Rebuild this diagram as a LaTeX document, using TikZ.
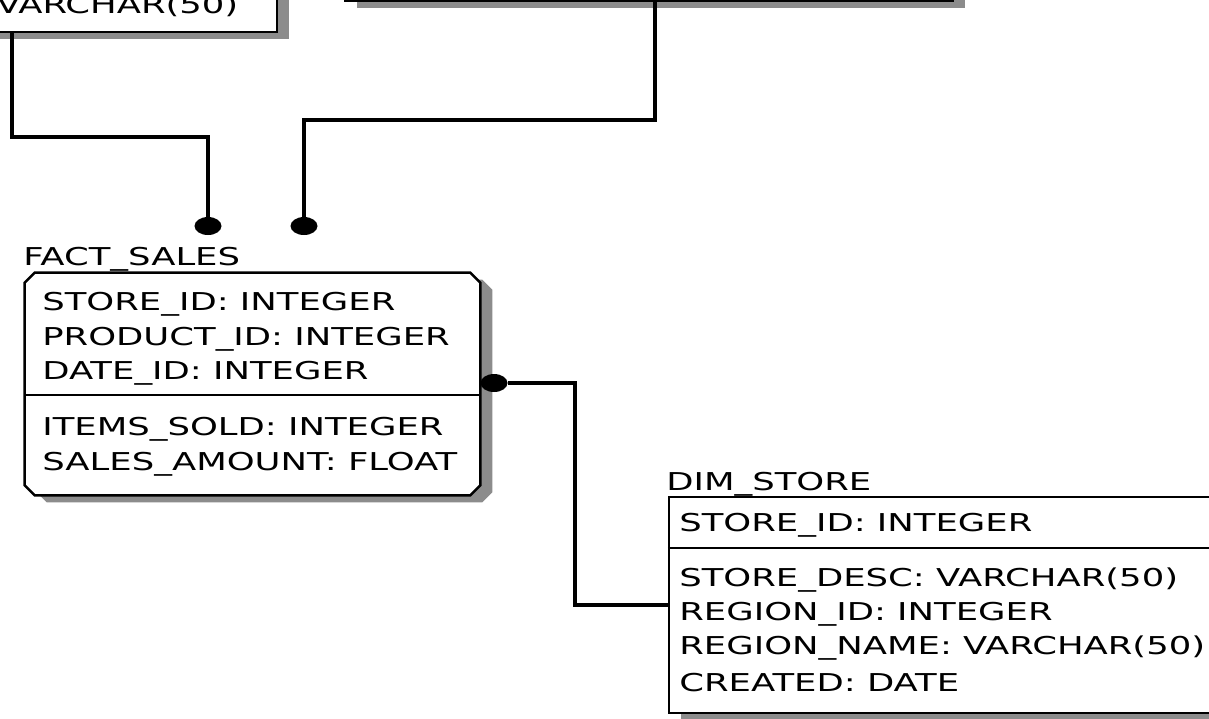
\documentclass[tikz,border=0pt]{standalone}
\usepackage{fontspec}
\newfontfamily\erfont[FakeStretch=1.44]{DejaVu Sans}
\usetikzlibrary{positioning,shapes.geometric,shadows}

\begin{document}
\begin{tikzpicture}[x=0.02cm,y=-0.02cm,
    box shadow/.style={drop shadow={shadow xshift=0.24cm,shadow yshift=-0.14cm,fill=black!45,opacity=1}},
    entity/.style={draw,fill=white,line width=1.4pt,inner sep=0pt,box shadow},
    field/.style={anchor=base west,inner sep=0pt,font=\erfont\fontsize{14pt}{17pt}\selectfont},
    link/.style={line width=1.8pt},
    end dot/.style={ellipse,fill,inner sep=0pt,minimum width=0.54cm,minimum height=0.36cm}]
    \useasboundingbox (0,0) rectangle (1209,718);
    \clip (0,0) rectangle (1209,718);

    % entity boxes
    \node[entity,minimum width=11.54cm,minimum height=2.64cm] at (-11.5,-34) (tlbox) {};
    \node[entity,minimum width=12.16cm,minimum height=3.02cm] at (649,-74.5) (tmbox) {};
    \node[inner sep=0pt,minimum width=9.1cm,minimum height=4.44cm] at (252.5,384) (fsbox) {};
    \draw[line width=1.4pt,fill=white,box shadow]
        ([xshift=0.2cm]fsbox.north west) -- ([xshift=-0.2cm]fsbox.north east)
        -- ([yshift=-0.2cm]fsbox.north east) -- ([yshift=0.2cm]fsbox.south east)
        -- ([xshift=-0.2cm]fsbox.south east) -- ([xshift=0.2cm]fsbox.south west)
        -- ([yshift=0.2cm]fsbox.south west) -- ([yshift=-0.2cm]fsbox.north west) -- cycle;
    \node[entity,minimum width=11.42cm,minimum height=4.32cm] at (954.5,605) (dsbox) {};
    \draw[line width=1.4pt] (fsbox.west |- 0,395) -- (fsbox.east |- 0,395);
    \draw[line width=1.4pt] (dsbox.west |- 0,548) -- (dsbox.east |- 0,548);

    % relationships
    \node[end dot] at (208,226) (dotA) {};
    \node[end dot] at (304,226) (dotB) {};
    \node[end dot] at (494,383) (dotC) {};
    \coordinate (tl_out) at (12,32);
    \coordinate (tm_out) at (655,1);
    \draw[link] (tl_out) -- ++(0,105) -| (dotA);
    \draw[link] (tm_out) -- ++(0,119) -| (dotB);
    \draw[link] (dotC) -- ++(81,0) |- (dsbox.west);

    % texts
    \node[field] at (-4,13) (tl_last) {VARCHAR(50)};
    \node[field] at (23,265) (fs_name) {FACT\_SALES};
    \foreach \txt/\y [count=\i] in {STORE\_ID: INTEGER/310,PRODUCT\_ID: INTEGER/345,DATE\_ID: INTEGER/379,ITEMS\_SOLD: INTEGER/435,SALES\_AMOUNT: FLOAT/470}
        \node[field] at (42,\y) (fs_row\i) {\txt};
    \node[field] at (666,490) (ds_name) {DIM\_STORE};
    \foreach \txt/\y [count=\i] in {STORE\_ID: INTEGER/531,STORE\_DESC: VARCHAR(50)/586,REGION\_ID: INTEGER/620,REGION\_NAME: VARCHAR(50)/654,CREATED: DATE/691}
        \node[field] at (679,\y) (ds_row\i) {\txt};
\end{tikzpicture}
\end{document}
